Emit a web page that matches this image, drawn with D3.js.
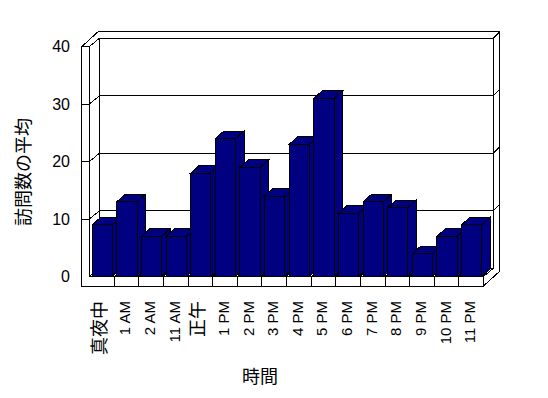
<!DOCTYPE html>
<html>
<head>
<meta charset="utf-8">
<script src="https://cdn.jsdelivr.net/npm/d3@7"></script>
<style>
  body { margin: 0; background: #fff; }
  svg { display: block; }
  text { font-family: "Liberation Sans", "Noto Sans CJK JP", sans-serif; fill: #000; }
</style>
</head>
<body>
<div id="chart"></div>
<script>
// data
const categories = ['真夜中', '1 AM', '2 AM', '11 AM', '正午', '1 PM', '2 PM', '3 PM',
    '4 PM', '5 PM', '6 PM', '7 PM', '8 PM', '9 PM', '10 PM', '11 PM'];
const visits = [9, 13, 7, 7, 18, 24, 19, 14, 23, 31, 11, 13, 12, 4, 7, 9];
const yTicks = [0, 10, 20, 30, 40];
const yTitle = '訪問数の平均';
const xTitle = '時間';

const width = 548, height = 398;

// 3d look: depth of the box, thickness of the back wall, depth of a bar
const depth = { dx: 10, dy: -8.3 };
const thick = { dx: 6, dy: -6.3 };
const barDepth = { dx: 8.5, dy: -7.5 };
const wallW = 7.6;      // front face of the left wall
const floorH = 9.5;     // front face of the floor

const svg = d3.select('#chart')
    .append('svg')
    .attr('width', width)
    .attr('height', height);

const x = d3.scaleBand()
    .domain(categories)
    .range([89.5, 483.5]);

const y = d3.scaleLinear()
    .domain([0, 40])
    .range([276.5, 46.5]);

const x0 = x.range()[0], x1 = x.range()[1];
const yTop = y(40), yBase = y(0);

const g = svg.append('g')
    .attr('shape-rendering', 'crispEdges')
    .attr('stroke', '#000')
    .attr('stroke-width', 1);

const line = d3.line();

// outer outline of walls + floor
g.append('path')
    .attr('fill', '#fff')
    .attr('d', line([
        [x0 - wallW, yTop],
        [x0 - wallW + depth.dx + thick.dx, yTop + depth.dy + thick.dy],
        [x1 + depth.dx + thick.dx, yTop + depth.dy + thick.dy],
        [x1 + depth.dx + thick.dx, yBase + floorH + depth.dy + thick.dy],
        [x1, yBase + floorH],
        [x0 - wallW, yBase + floorH]
    ]) + 'Z');

// left wall front face and inner edges
g.append('path').attr('fill', 'none').attr('d', line([
    [x0 - wallW, yTop], [x0, yTop], [x0, yBase], [x1, yBase], [x1, yBase + floorH]
]));
g.append('path').attr('fill', 'none').attr('d', line([
    [x0, yTop], [x0 + depth.dx, yTop + depth.dy], [x0 + depth.dx, yBase + depth.dy]
]));
g.append('path').attr('fill', 'none').attr('d', line([
    [x1 + depth.dx, yTop + depth.dy], [x1 + depth.dx, yBase + depth.dy]
]));
// floor edges
g.append('path').attr('fill', 'none').attr('d', line([
    [x0, yBase], [x0 + depth.dx, yBase + depth.dy], [x1 + depth.dx, yBase + depth.dy], [x1, yBase]
]));

// gridlines running across left wall, back wall and its side
yTicks.filter(d => d > 0).forEach(v => {
    const yy = y(v);
    g.append('path').attr('fill', 'none').attr('d', line([
        [x0 - wallW, yy],
        [x0, yy],
        [x0 + depth.dx, yy + depth.dy],
        [x1 + depth.dx, yy + depth.dy],
        [x1 + depth.dx + thick.dx, yy + depth.dy + thick.dy]
    ]));
});

// category dividers on the floor front and on the floor top
const bounds = categories.map(c => x(c)).concat([x1]);
bounds.slice(1, -1).forEach(bx => {
    g.append('line')
        .attr('x1', bx).attr('y1', yBase)
        .attr('x2', bx).attr('y2', yBase + floorH);
    g.append('line')
        .attr('x1', bx).attr('y1', yBase)
        .attr('x2', bx + depth.dx).attr('y2', yBase + depth.dy);
});

// bars, left to right so each front covers the previous side
const barColor = '#000080';
const barOff = x.bandwidth() * 0.11;
const barW = x.bandwidth() * 0.82;

const bars = g.append('g').selectAll('g')
    .data(visits)
    .join('g');

bars.each(function(v, i) {
    const b = d3.select(this);
    const xl = x(categories[i]) + barOff;
    const xr = xl + barW;
    const yt = y(v);
    // side
    b.append('path').attr('fill', barColor).attr('d', line([
        [xr, yt], [xr + barDepth.dx, yt + barDepth.dy],
        [xr + barDepth.dx, yBase + barDepth.dy], [xr, yBase]
    ]) + 'Z');
    // top
    b.append('path').attr('fill', barColor).attr('d', line([
        [xl, yt], [xl + barDepth.dx, yt + barDepth.dy],
        [xr + barDepth.dx, yt + barDepth.dy], [xr, yt]
    ]) + 'Z');
    // front
    b.append('rect')
        .attr('x', xl).attr('y', yt)
        .attr('width', barW).attr('height', yBase - yt)
        .attr('fill', barColor);
});

// y tick labels
svg.append('g').selectAll('text')
    .data(yTicks)
    .join('text')
    .attr('x', 70)
    .attr('y', d => y(d))
    .attr('dy', '0.36em')
    .attr('text-anchor', 'end')
    .style('font-size', '16px')
    .text(d => d);

// x tick labels, rotated
svg.append('g').selectAll('text')
    .data(categories)
    .join('text')
    .attr('transform', d => `translate(${x(d) + x.bandwidth() / 2 + 4},301) rotate(-90)`)
    .attr('text-anchor', 'end')
    .style('font-size', d => /[^\x00-\x7f]/.test(d) ? '18px' : '15px')
    .text(d => d);

// axis titles
svg.append('text')
    .attr('transform', 'translate(30,172) rotate(-90)')
    .attr('text-anchor', 'middle')
    .style('font-size', '18px')
    .text(yTitle);

svg.append('text')
    .attr('x', 260)
    .attr('y', 383)
    .attr('text-anchor', 'middle')
    .style('font-size', '18px')
    .text(xTitle);
</script>
</body>
</html>
